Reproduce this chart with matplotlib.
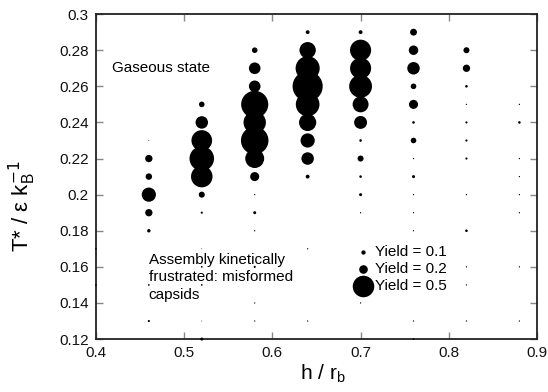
import matplotlib
matplotlib.use("Agg")
import matplotlib.pyplot as plt
from matplotlib.ticker import FuncFormatter, MultipleLocator

plt.rcParams["font.family"] = ["Liberation Sans", "DejaVu Sans"]
plt.rcParams["mathtext.fontset"] = "dejavusans"

# one column of state points per h / r_b value: temperatures and capsid yields
H_COLUMNS = [0.40, 0.46, 0.52, 0.58, 0.64, 0.70, 0.76, 0.82, 0.88]

T_040 = [0.17, 0.15]
Y_040 = [0.04, 0.04]

T_046 = [0.23, 0.22, 0.21, 0.20, 0.19, 0.18, 0.15, 0.13]
Y_046 = [0.02, 0.17, 0.15, 0.33, 0.17, 0.08, 0.04, 0.05]

T_052 = [0.25, 0.24, 0.23, 0.22, 0.21, 0.20, 0.19, 0.17, 0.16, 0.15, 0.13, 0.12]
Y_052 = [0.13, 0.29, 0.48, 0.57, 0.50, 0.14, 0.05, 0.02, 0.04, 0.04, 0.02, 0.07]

T_058 = [0.28, 0.27, 0.26, 0.25, 0.24, 0.23, 0.22, 0.21, 0.20, 0.19, 0.18, 0.16, 0.14, 0.13]
Y_058 = [0.13, 0.27, 0.27, 0.63, 0.52, 0.64, 0.44, 0.21, 0.03, 0.07, 0.03, 0.05, 0.03, 0.03]

T_064 = [0.29, 0.28, 0.27, 0.26, 0.25, 0.24, 0.23, 0.22, 0.21, 0.17, 0.13]
Y_064 = [0.09, 0.38, 0.56, 0.70, 0.55, 0.40, 0.33, 0.29, 0.09, 0.03, 0.03]

T_070 = [0.29, 0.28, 0.27, 0.26, 0.25, 0.24, 0.23, 0.22, 0.21, 0.20, 0.19, 0.14]
Y_070 = [0.09, 0.49, 0.49, 0.53, 0.37, 0.30, 0.06, 0.14, 0.06, 0.07, 0.03, 0.03]

T_076 = [0.29, 0.28, 0.27, 0.26, 0.25, 0.24, 0.23, 0.22, 0.21, 0.20, 0.19, 0.18, 0.13, 0.12]
Y_076 = [0.16, 0.22, 0.29, 0.13, 0.21, 0.06, 0.13, 0.03, 0.07, 0.03, 0.03, 0.03, 0.03, 0.04]

T_082 = [0.28, 0.27, 0.26, 0.25, 0.24, 0.23, 0.22, 0.20, 0.18, 0.16, 0.15, 0.13]
Y_082 = [0.14, 0.17, 0.06, 0.03, 0.05, 0.05, 0.05, 0.03, 0.06, 0.03, 0.03, 0.03]

T_088 = [0.25, 0.24, 0.22, 0.21, 0.20, 0.19, 0.16, 0.13]
Y_088 = [0.03, 0.06, 0.03, 0.03, 0.03, 0.03, 0.03, 0.03]

T_COLUMNS = [T_040, T_046, T_052, T_058, T_064, T_070, T_076, T_082, T_088]
Y_COLUMNS = [Y_040, Y_046, Y_052, Y_058, Y_064, Y_070, Y_076, Y_082, Y_088]

LEGEND_YIELDS = [0.1, 0.2, 0.5]


def marker_area(yields):
    # marker diameter grows linearly with yield
    return [(31.0 * y) ** 2 for y in yields]


fig = plt.figure(figsize=(5.48, 3.92), dpi=100)
ax = fig.add_axes([0.175, 0.135, 0.805, 0.829])

for h, temps, ylds in zip(H_COLUMNS, T_COLUMNS, Y_COLUMNS):
    ax.scatter([h] * len(temps), temps, s=marker_area(ylds), c="black",
               linewidths=0, clip_on=False, zorder=3)

handles = [ax.scatter([], [], s=marker_area([y])[0], c="black", linewidths=0)
           for y in LEGEND_YIELDS]
ax.legend(handles, [f"Yield = {y}" for y in LEGEND_YIELDS],
          loc="center left", bbox_to_anchor=(0.565, 0.215), frameon=False,
          fontsize=11, handletextpad=0.05, labelspacing=0.2,
          borderpad=0, handlelength=1.4)

ax.text(0.46 - 0.042, 0.27, "Gaseous state", fontsize=11, va="center")
ax.text(0.46, 0.1542, "Assembly kinetically\nfrustrated: misformed\ncapsids",
        fontsize=11, va="center", linespacing=1.32)

ax.set_xlim(0.4, 0.9)
ax.set_ylim(0.12, 0.3)
ax.xaxis.set_major_locator(MultipleLocator(0.1))
ax.yaxis.set_major_locator(MultipleLocator(0.02))
fmt = FuncFormatter(lambda v, _: f"{v:.2f}".rstrip("0").rstrip("."))
ax.xaxis.set_major_formatter(fmt)
ax.yaxis.set_major_formatter(fmt)
ax.tick_params(direction="in", length=5, width=1, color="#888888",
               top=True, right=True, labelsize=11, pad=5, labelcolor="#111111")
for sp in ax.spines.values():
    sp.set_color("#222222")
    sp.set_linewidth(1.3)

ax.set_xlabel(r"h / r$_\mathregular{b}$", fontsize=15, labelpad=2)
ax.xaxis.label.set_x(0.515)
ax.set_ylabel(r"T* / ε k$_\mathregular{B}^{-1}$", fontsize=16, labelpad=15)
ax.yaxis.label.set_y(0.41)

fig.savefig("out.png", dpi=100)
